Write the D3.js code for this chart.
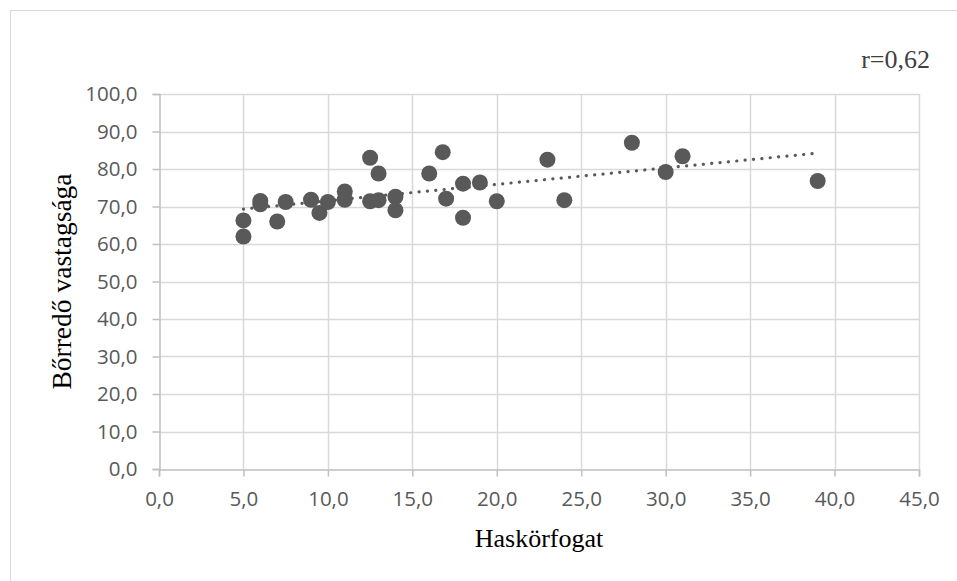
<!DOCTYPE html>
<html><head><meta charset="utf-8">
<script src="https://cdn.jsdelivr.net/npm/d3@7"></script>
<style>body{margin:0;background:#fff}svg{display:block}</style>
</head><body>
<script>
const xValues = [5.0,5.0,6.0,6.0,7.0,7.5,9.0,9.5,10.0,11.0,11.0,12.5,12.5,13.0,13.0,14.0,14.0,16.0,16.8,17.0,18.0,18.0,19.0,20.0,23.0,24.0,28.0,30.0,31.0,39.0];
const yValues = [66.3,62.0,71.5,70.6,66.0,71.2,71.8,68.3,71.2,74.0,71.8,83.0,71.4,78.8,71.7,72.6,69.0,78.8,84.5,72.1,76.1,67.0,76.4,71.4,82.5,71.7,87.0,79.2,83.4,76.8];
const xTicks = [0,5,10,15,20,25,30,35,40,45];
const yTicks = [0,10,20,30,40,50,60,70,80,90,100];
const xTitle = "Haskörfogat";
const yTitle = "Bőrredő vastagsága";
const rLabel = "r=0,62";

const W=957,H=581;
const svg=d3.select("body").append("svg").attr("width",W).attr("height",H);
svg.append("rect").attr("x",10.5).attr("y",10.5).attr("width",W).attr("height",H).attr("fill","none").attr("stroke","#d9d9d9");

const x=d3.scaleLinear().domain([0,45]).range([159,919]);
const y=d3.scaleLinear().domain([0,100]).range([469,94]);
const fmt=d=>d.toFixed(1).replace(".",",");
const tickFont="'Open Sans', 'Liberation Sans', sans-serif";

// gridlines
svg.append("g").selectAll("line").data(yTicks.slice(1)).join("line")
 .attr("x1",x(0)).attr("x2",x(45)).attr("y1",d=>Math.round(y(d))+0.5).attr("y2",d=>Math.round(y(d))+0.5)
 .attr("stroke","#d9d9d9").attr("stroke-width",1.5);
svg.append("g").selectAll("line").data(xTicks.slice(1)).join("line")
 .attr("y1",y(0)).attr("y2",y(100)).attr("x1",d=>Math.round(x(d))+0.5).attr("x2",d=>Math.round(x(d))+0.5)
 .attr("stroke","#d9d9d9").attr("stroke-width",1.5);

// axes
const xAxis=svg.append("g").attr("transform",`translate(0,${Math.round(y(0))+0.5})`)
 .call(d3.axisBottom(x).tickValues(xTicks).tickFormat(fmt).tickSize(7).tickPadding(15));
const yAxis=svg.append("g").attr("transform",`translate(${Math.round(x(0))+0.5},0)`)
 .call(d3.axisLeft(y).tickValues(yTicks).tickFormat(fmt).tickSize(7).tickPadding(15));
[xAxis,yAxis].forEach(g=>{
 g.select(".domain").attr("stroke","#bfbfbf").attr("stroke-width",1.5);
 g.selectAll(".tick line").attr("stroke","#bfbfbf").attr("stroke-width",1.5);
 g.selectAll(".tick text").attr("fill","#595959").attr("font-family",tickFont).attr("font-size",20.5);
});

// trendline (least squares)
const n=xValues.length, mx=d3.mean(xValues), my=d3.mean(yValues);
let sxy=0,sxx=0; for(let i=0;i<n;i++){sxy+=(xValues[i]-mx)*(yValues[i]-my);sxx+=(xValues[i]-mx)**2;}
const b=sxy/sxx, a=my-b*mx;
const x0=d3.min(xValues), x1=d3.max(xValues);
svg.append("line").attr("x1",x(x0)).attr("y1",y(a+b*x0)).attr("x2",x(x1)).attr("y2",y(a+b*x1))
 .attr("stroke","#595959").attr("stroke-width",3.2).attr("stroke-linecap","round").attr("stroke-dasharray","0.1 8.3");

// points
svg.append("g").selectAll("circle").data(xValues.map((v,i)=>[v,yValues[i]])).join("circle")
 .attr("cx",d=>x(d[0])).attr("cy",d=>y(d[1])).attr("r",8).attr("fill","#595959");

// titles
const serif="'Liberation Serif','Times New Roman',serif";
svg.append("text").attr("x",(x(0)+x(45))/2).attr("y",547).attr("text-anchor","middle")
 .attr("font-family",serif).attr("font-size",26).attr("fill","#000").text(xTitle);
svg.append("text").attr("transform",`translate(71,${(y(0)+y(100))/2}) rotate(-90)`).attr("text-anchor","middle")
 .attr("font-family",serif).attr("font-size",27.5).attr("fill","#000").text(yTitle);
svg.append("text").attr("x",930).attr("y",68).attr("text-anchor","end")
 .attr("font-family",serif).attr("font-size",26).attr("fill","#404040").text(rLabel);
</script>
</body></html>
